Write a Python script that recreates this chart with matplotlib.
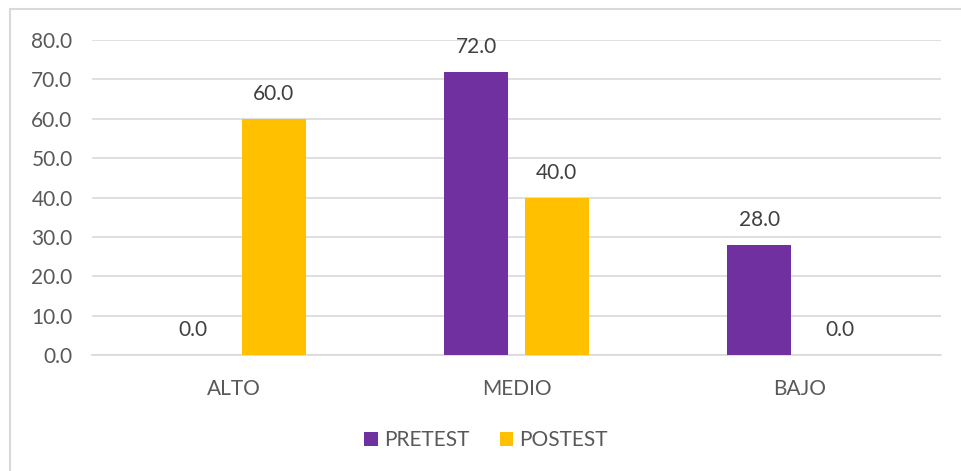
import numpy as np
import matplotlib.pyplot as plt
from matplotlib.patches import Rectangle

categories = ['ALTO', 'MEDIO', 'BAJO']
pretest = [0.0, 72.0, 28.0]
postest = [60.0, 40.0, 0.0]
series_names = ['PRETEST', 'POSTEST']
y_ticks = [0, 10, 20, 30, 40, 50, 60, 70, 80]

purple = '#7030A0'
gold = '#FFC000'
text_gray = '#595959'

plt.rcParams['font.family'] = ['Lato', 'DejaVu Sans']

W, H = 961, 471
fig = plt.figure(figsize=(W / 100, H / 100), dpi=100)

# outer chart border (only top and left visible in the crop)
fig.patches.append(Rectangle((10 / W, -0.1), 1.2, 1 - 9 / H + 0.1,
                             transform=fig.transFigure, fill=False,
                             edgecolor='#d9d9d9', linewidth=1.5))

ax = fig.add_axes([92 / W, 1 - 355 / H, (941 - 92) / W, (355 - 40) / H])

x = np.arange(len(categories))
width = 0.227
offset = 0.142

b1 = ax.bar(x - offset, pretest, width, color=purple, label=series_names[0], zorder=3)
b2 = ax.bar(x + offset, postest, width, color=gold, label=series_names[1], zorder=3)

fs = 15

for bars in (b1, b2):
    for rect in bars:
        h = rect.get_height()
        ax.annotate(f'{h:.1f}', (rect.get_x() + rect.get_width() / 2, h),
                    xytext=(0, 10.5), textcoords='offset points',
                    ha='center', va='bottom', fontsize=fs, color='#404040')

ax.set_xlim(-0.5, 2.5)
ax.set_ylim(0, 80)
ax.set_yticks(y_ticks)
ax.set_yticklabels([f'{v:.1f}' for v in y_ticks])
ax.set_xticks(x)
ax.set_xticklabels(categories)

ax.yaxis.grid(True, color='#d9d9d9', linewidth=1.2, zorder=0)
ax.set_axisbelow(True)
for s in ['top', 'right', 'left']:
    ax.spines[s].set_visible(False)
ax.spines['bottom'].set_color('#d9d9d9')
ax.spines['bottom'].set_linewidth(1.2)

ax.tick_params(axis='both', length=0, labelsize=fs, labelcolor=text_gray)
ax.tick_params(axis='y', pad=14)
ax.tick_params(axis='x', pad=17)

leg = fig.legend(handles=[b1, b2], loc='center', bbox_to_anchor=(486 / W, 1 - 440 / H),
                 ncol=2, frameon=False, fontsize=fs, handlelength=0.65,
                 handleheight=0.65, handletextpad=0.3, columnspacing=1.45)
for t in leg.get_texts():
    t.set_color(text_gray)

fig.savefig('out.png', dpi=100)
